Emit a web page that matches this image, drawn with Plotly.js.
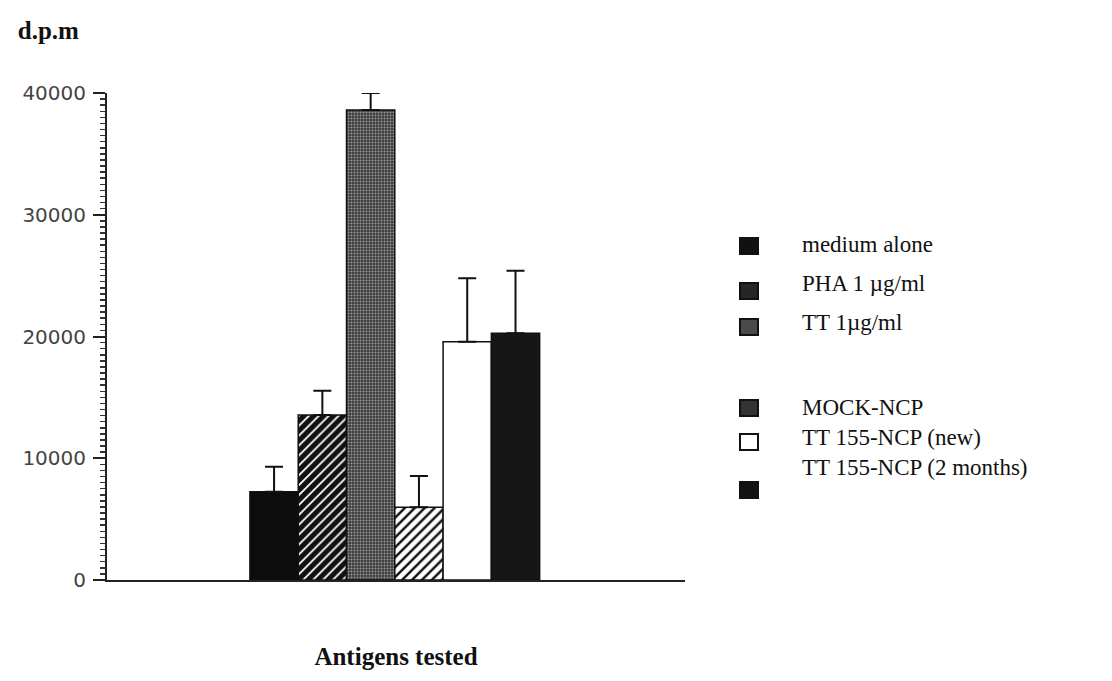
<!DOCTYPE html>
<html><head><meta charset="utf-8">
<script src="https://cdn.plot.ly/plotly-3.0.1.min.js"></script>
<style>html,body{margin:0;padding:0;background:#fff;}</style>
</head><body><div id="chart" style="width:1112px;height:681px;"></div>
<script>
const categories = ["medium alone", "PHA 1 \u00b5g/ml", "TT 1\u00b5g/ml", "MOCK-NCP", "TT 155-NCP (new)", "TT 155-NCP (2 months)"];
const positions = [0, 1, 2, 3, 4, 5];
const values = [7250, 13550, 38600, 5970, 19570, 20260];
const errorsUp = [2050, 2000, 1400, 2570, 5210, 5140];
const yTickVals = [0, 10000, 20000, 30000, 40000];
const yTickText = ["0", "10000", "20000", "30000", "40000"];

const styles = [
  {color: "#0c0c0c"},
  {color: "#111", pattern: {shape: "/", bgcolor: "#111", fgcolor: "#ffffff", size: 7, solidity: 0.25}},
  {color: "#4a4a4a", pattern: {shape: ".", bgcolor: "#3c3c3c", fgcolor: "#9a9a9a", size: 3, solidity: 0.35}},
  {color: "#fff", pattern: {shape: "/", bgcolor: "#ffffff", fgcolor: "#111", size: 7, solidity: 0.35}},
  {color: "#ffffff"},
  {color: "#161616"}
];

const traces = categories.map((name, i) => ({
  type: "bar",
  name: name,
  x: [positions[i]],
  y: [values[i]],
  width: 1,
  showlegend: false,
  marker: Object.assign({line: {color: "#111", width: 1.5}}, styles[i]),
  error_y: {type: "data", symmetric: false, array: [errorsUp[i]], arrayminus: [0], color: "#111", thickness: 2, width: 9},
  hoverinfo: "skip"
}));

// plot-area pixel frame (for placing the hand-drawn legend)
const W = 1112, H = 681, L = 107, R = 685, T = 93, B = 580;
const px2x = p => (p - L) / (R - L);
const py2y = p => (B - p) / (B - T);

// legend layout (positions in pixels)
const legendTextY = [244, 283, 322, 407, 437, 467];
const legendSwatchY = [246, 291, 327, 408, 442, 490];
const legendSwatchFill = ["#111111", "#262626", "#4a4a4a", "#333333", "#ffffff", "#121212"];

const annotations = categories.map((name, i) => ({
  text: name, xref: "paper", yref: "paper",
  x: px2x(800), y: py2y(legendTextY[i]), xanchor: "left", yanchor: "middle",
  showarrow: false, font: {family: "Liberation Serif", size: 23, color: "#111"}
}));
const shapes = categories.map((name, i) => ({
  type: "rect", xref: "paper", yref: "paper",
  x0: px2x(740), x1: px2x(758), y0: py2y(legendSwatchY[i] + 8), y1: py2y(legendSwatchY[i] - 8),
  fillcolor: legendSwatchFill[i], line: {color: "#111", width: 2}
}));

const layout = {
  width: W, height: H,
  margin: {l: L, r: W - R, t: T, b: H - B},
  paper_bgcolor: "#fff", plot_bgcolor: "#fff",
  barmode: "overlay",
  showlegend: false,
  title: {text: "<b>d.p.m</b>", font: {family: "Liberation Serif", size: 25, color: "#111"},
          xref: "container", yref: "container", x: 0.016, xanchor: "left", y: 1 - 30 / H, yanchor: "middle"},
  xaxis: {range: [-3.46, 8.51], showgrid: false, zeroline: false, showline: true, linecolor: "#222", linewidth: 2,
          tickvals: [], showticklabels: false, fixedrange: true,
          title: {text: "<b>Antigens tested</b>", font: {family: "Liberation Serif", size: 25, color: "#111"}, standoff: 66},
          automargin: false},
  yaxis: {range: [0, 40000], showgrid: false, zeroline: false, showline: true, linecolor: "#222", linewidth: 2,
          tickvals: yTickVals, ticktext: yTickText, ticks: "outside", ticklen: 12, tickwidth: 2, tickcolor: "#222",
          ticklabelstandoff: 3,
          minor: {dtick: 500, ticks: "outside", ticklen: 5, tickwidth: 1.5, tickcolor: "#333"},
          tickfont: {family: "DejaVu Sans", size: 20, color: "#444"}, automargin: false},
  annotations: annotations,
  shapes: shapes,
  font: {family: "Liberation Serif"}
};

Plotly.newPlot("chart", traces, layout, {displayModeBar: false, staticPlot: true});
</script>
</body></html>
